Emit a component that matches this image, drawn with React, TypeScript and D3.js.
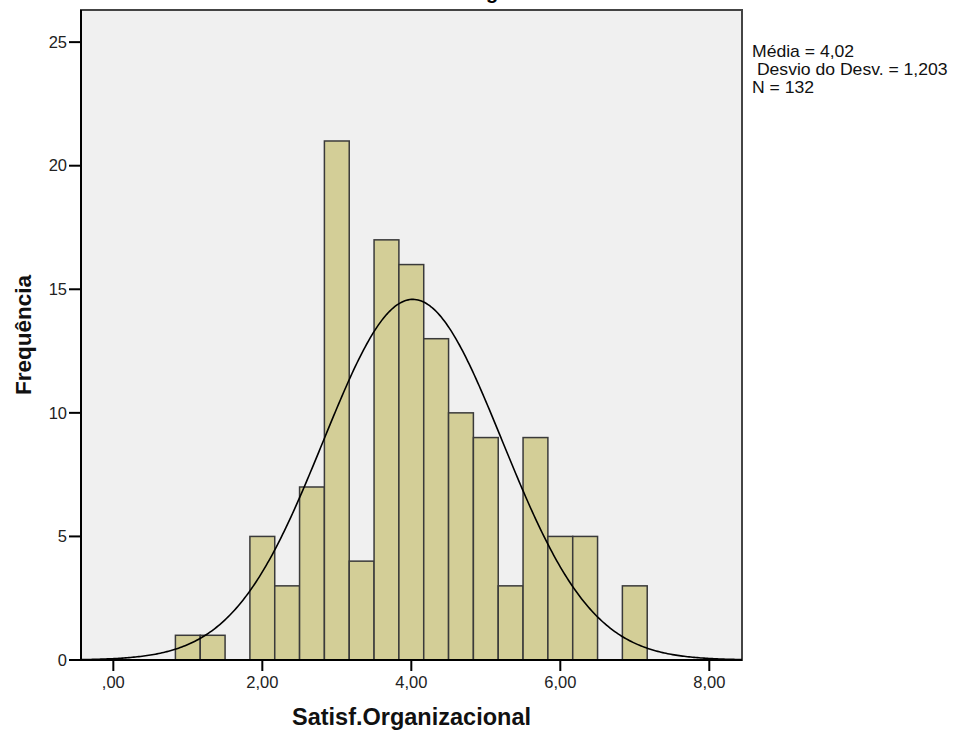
import React from "react";
import * as d3 from "d3";

// Histogram bins (bin width 1/3)
const binStarts = [0.8333, 1.1667, 1.5, 1.8333, 2.1667, 2.5, 2.8333, 3.1667, 3.5, 3.8333, 4.1667, 4.5, 4.8333, 5.1667, 5.5, 5.8333, 6.1667, 6.5, 6.8333];
const counts = [1, 1, 0, 5, 3, 7, 21, 4, 17, 16, 13, 10, 9, 3, 9, 5, 5, 0, 3];
const binWidth = 1 / 3;

const xTicks = [0, 2, 4, 6, 8];
const xTickLabels = [",00", "2,00", "4,00", "6,00", "8,00"];
const yTicks = [0, 5, 10, 15, 20, 25];

const mean = 4.02;
const sd = 1.203;
const n = 132;
const legendLines = ["Média = 4,02", " Desvio do Desv. = 1,203", "N = 132"];

const W = 953;
const H = 740;
const left = 81;
const right = 742;
const top = 10;
const bottom = 660;

export default function App() {
  const x = d3.scaleLinear().domain([-0.434, 8.439]).range([left, right]);
  const y = d3.scaleLinear().domain([0, 26.3]).range([bottom, top]);

  const curvePts = d3.range(0, 401).map((i) => {
    const v = -0.434 + (i / 400) * (8.439 + 0.434);
    const dens = (n * binWidth) / (sd * Math.sqrt(2 * Math.PI)) * Math.exp(-0.5 * ((v - mean) / sd) ** 2);
    return [v, dens] as [number, number];
  });
  const line = d3.line<[number, number]>().x((d) => x(d[0])).y((d) => y(d[1])).curve(d3.curveLinear);

  const font = "Arial, 'Liberation Sans', sans-serif";

  return (
    <svg width={W} height={H} style={{ position: "absolute", left: 0, top: 0, background: "#fff" }} fontFamily={font}>
      <defs>
        <clipPath id="plotclip">
          <rect x={left} y={top} width={right - left} height={bottom - top} />
        </clipPath>
      </defs>
      {/* title (mostly cut off at the top, as in the reference) */}
      <text x={436} y={-1.5} fontSize={20} fontWeight="bold" fill="#000">Histograma</text>
      {/* plot background */}
      <rect x={left} y={top} width={right - left} height={bottom - top} fill="#f0f0f0" stroke="#444" strokeWidth={2} />
      {/* bars */}
      <g>
        {counts.map((c, i) =>
          c > 0 ? (
            <rect
              key={i}
              x={x(binStarts[i])}
              y={y(c)}
              width={x(binStarts[i] + binWidth) - x(binStarts[i])}
              height={y(0) - y(c)}
              fill="#d3ce97"
              stroke="#3a3a3a"
              strokeWidth={1.5}
            />
          ) : null
        )}
      </g>
      {/* normal curve */}
      <path d={line(curvePts) || ""} fill="none" stroke="#000" strokeWidth={1.6} clipPath="url(#plotclip)" />
      {/* axes */}
      <line x1={left} y1={top} x2={left} y2={bottom} stroke="#000" strokeWidth={2} />
      <line x1={left} y1={bottom} x2={right} y2={bottom} stroke="#000" strokeWidth={2} />
      {yTicks.map((t) => (
        <g key={t}>
          <line x1={left - 12} x2={left} y1={y(t)} y2={y(t)} stroke="#000" strokeWidth={2} />
          <text x={left - 14} y={y(t)} dy="0.35em" textAnchor="end" fontSize={16.5} fill="#222">{t}</text>
        </g>
      ))}
      {xTicks.map((t, i) => (
        <g key={t}>
          <line x1={x(t)} x2={x(t)} y1={bottom} y2={bottom + 11} stroke="#000" strokeWidth={2} />
          <text x={x(t)} y={688} textAnchor="middle" fontSize={16.5} fill="#222">{xTickLabels[i]}</text>
        </g>
      ))}
      {/* axis titles */}
      <text x={(left + right) / 2} y={725} textAnchor="middle" fontSize={23.5} fontWeight="bold" fill="#111">Satisf.Organizacional</text>
      <text transform={`translate(31,335) rotate(-90)`} textAnchor="middle" fontSize={22.5} fontWeight="bold" fill="#111">Frequência</text>
      {/* legend stats */}
      {legendLines.map((s, i) => (
        <text key={i} transform={`translate(752,${57 + i * 18}) scale(1.1,1)`} fontSize={16} fill="#111" style={{ whiteSpace: "pre" }}>{s}</text>
      ))}
    </svg>
  );
}
